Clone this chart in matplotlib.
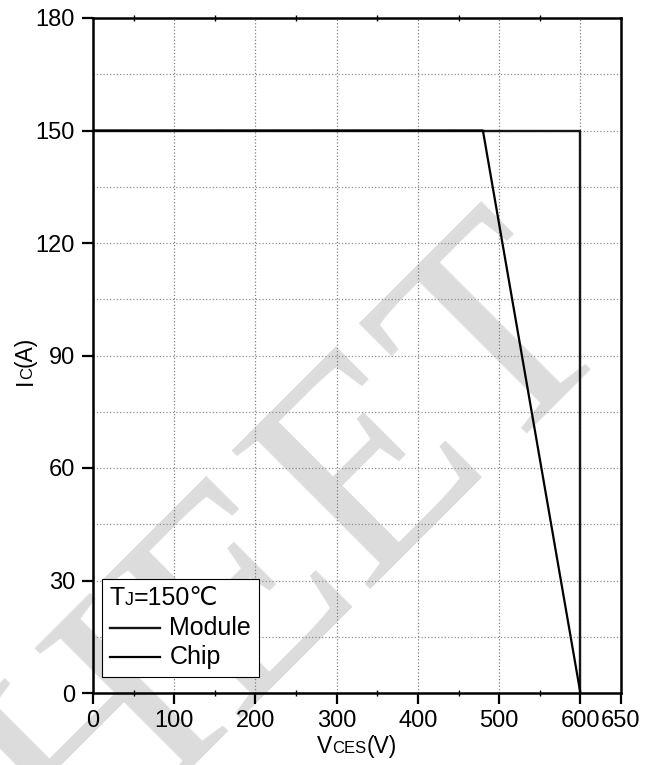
import matplotlib
matplotlib.use("Agg")
import matplotlib.pyplot as plt
from matplotlib.ticker import MultipleLocator
from matplotlib.lines import Line2D
from matplotlib.offsetbox import AnchoredOffsetbox, VPacker, HPacker, TextArea, DrawingArea

plt.rcParams['font.family'] = ['Liberation Sans', 'DejaVu Sans']

# Safe operating area curves (VCE in V, IC in A)
module_v = [0, 600, 600]
module_i = [150, 150, 0]
chip_v = [0, 480, 600]
chip_i = [150, 150, 0]

x_ticks = [0, 100, 200, 300, 400, 500, 600, 650]
y_ticks = [0, 30, 60, 90, 120, 150, 180]
series_labels = ["Module", "Chip"]

W, H = 653, 765
fig = plt.figure(figsize=(W / 100, H / 100), dpi=100)
ax = fig.add_axes([93 / W, 1 - 693 / H, (621 - 93) / W, (693 - 18) / H])
ax.patch.set_alpha(0)

# faint diagonal watermark behind the plot
fig.text(238 / W, 1 - 600 / H, "SHEET", family="Liberation Serif", size=216,
         color="#dcdcdc", rotation=45, rotation_mode="anchor",
         ha="center", va="center", zorder=-5)

module_line, = ax.plot(module_v, module_i, color="#151515", lw=1.7, zorder=3)
chip_line, = ax.plot(chip_v, chip_i, color="black", lw=1.6, zorder=3)

ax.set_xlim(0, 650)
ax.set_ylim(0, 180)
ax.set_xticks(x_ticks)
ax.set_xticklabels([str(v) for v in x_ticks])
ax.set_yticks(y_ticks)
ax.set_yticklabels([str(v) for v in y_ticks])
ax.xaxis.set_minor_locator(MultipleLocator(50))
ax.yaxis.set_minor_locator(MultipleLocator(15))

ax.grid(True, axis="x", which="major", color="#808080", ls=":", lw=0.9, zorder=1)
ax.grid(True, axis="y", which="both", color="#909090", ls=":", lw=0.9, zorder=1)

for s in ax.spines.values():
    s.set_linewidth(1.8)
    s.set_zorder(4)

ax.tick_params(axis="both", which="major", direction="out", length=8, width=1.6,
               labelsize=17, pad=4)
ax.tick_params(axis="y", which="major", pad=5)
ax.tick_params(axis="x", which="minor", top=True, bottom=True, direction="inout",
               length=4, width=1.0)
ax.tick_params(axis="y", which="minor", length=0)


def rich_label(x_px, y_px, parts, rotation=0):
    """Draw a label made of pieces of different sizes sharing one baseline."""
    r = fig.canvas.get_renderer()
    widths = []
    for s, size in parts:
        t = fig.text(0, 0, s, size=size)
        widths.append(t.get_window_extent(r).width)
        t.remove()
    pos = -sum(widths) / 2
    for (s, size), w in zip(parts, widths):
        if rotation == 0:
            fig.text((x_px + pos) / W, 1 - y_px / H, s, size=size,
                     ha="left", va="baseline")
        else:
            fig.text(x_px / W, 1 - (y_px - pos) / H, s, size=size, rotation=90,
                     rotation_mode="anchor", ha="left", va="baseline")
        pos += w


rich_label(357, 753, [("V", 16.5), ("CES", 12), ("(V)", 16.5)])
rich_label(32, 361, [("I", 16.5), ("C", 12), ("(A)", 16.5)], rotation=90)

# legend box with temperature header
leg_fs = 18
title = HPacker(children=[TextArea("T", textprops=dict(size=leg_fs)),
                          TextArea("J", textprops=dict(size=13)),
                          TextArea("=150℃", textprops=dict(size=leg_fs))],
                align="baseline", pad=0, sep=0)


def legend_row(line, label):
    da = DrawingArea(36, 12, 0, 0)
    da.add_artist(Line2D([0, 36], [6, 6], color=line.get_color(),
                         lw=line.get_linewidth()))
    return HPacker(children=[da, TextArea(label, textprops=dict(size=leg_fs))],
                   align="center", pad=0, sep=7)


rows = [legend_row(module_line, series_labels[0]),
        legend_row(chip_line, series_labels[1])]
box = VPacker(children=[title] + rows, align="left", pad=0, sep=4)
anch = AnchoredOffsetbox(loc="lower left", child=box, pad=0.55, borderpad=0,
                         frameon=True, bbox_to_anchor=(102 / W, 1 - 677 / H),
                         bbox_transform=fig.transFigure)
anch.patch.set_edgecolor("black")
anch.patch.set_linewidth(0.8)
anch.patch.set_facecolor("white")
anch.zorder = 5
ax.add_artist(anch)

fig.savefig("out.png", dpi=100)
